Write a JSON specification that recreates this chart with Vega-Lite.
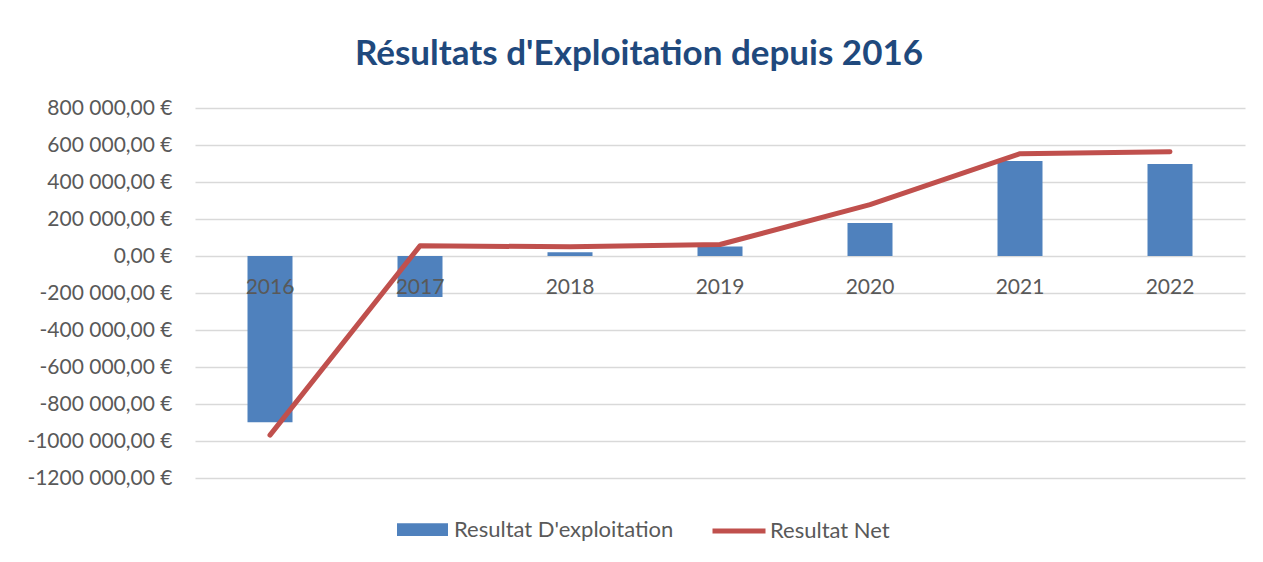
{
  "$schema": "https://vega.github.io/schema/vega-lite/v6.json",
  "autosize": {"type": "none"},
  "width": 1050,
  "height": 370,
  "padding": {"left": 195, "top": 108, "right": 18, "bottom": 84},
  "background": "white",
  "config": {
    "view": {"stroke": null},
    "font": "Lato",
    "axis": {"labelFont": "Lato", "labelColor": "#595959", "labelFontSize": 21, "ticks": false, "domain": false, "title": null, "labelOverlap": false}
  },
  "title": {
    "text": "Résultats d'Exploitation depuis 2016",
    "font": "Lato",
    "fontSize": 35,
    "fontWeight": "bold",
    "color": "#1F497D",
    "anchor": "middle",
    "frame": "group",
    "dx": -81,
    "offset": 25
  },
  "data": {
    "values": [
      {"annee": "2016", "exploitation": -898000, "net": -968000},
      {"annee": "2017", "exploitation": -222000, "net": 55000},
      {"annee": "2018", "exploitation": 20000, "net": 50000},
      {"annee": "2019", "exploitation": 52000, "net": 62000},
      {"annee": "2020", "exploitation": 178000, "net": 278000},
      {"annee": "2021", "exploitation": 513000, "net": 553000},
      {"annee": "2022", "exploitation": 497000, "net": 563000}
    ]
  },
  "encoding": {
    "x": {
      "field": "annee",
      "type": "nominal",
      "sort": null,
      "scale": {"paddingInner": 0.7, "paddingOuter": 0.35},
      "axis": {"orient": "bottom", "offset": -222, "labelAngle": 0, "labelPadding": 20, "grid": false, "zindex": 1}
    }
  },
  "layer": [
    {
      "mark": {"type": "bar", "color": "#4F81BD"},
      "encoding": {
        "y": {
          "field": "exploitation",
          "type": "quantitative",
          "scale": {"domain": [-1200000, 800000], "nice": false, "zero": false},
          "axis": {
            "values": [-1200000, -1000000, -800000, -600000, -400000, -200000, 0, 200000, 400000, 600000, 800000],
            "grid": true,
            "gridColor": "#D9D9D9",
            "gridWidth": 1.5,
            "labelPadding": 23,
            "labelOverlap": false,
            "labelExpr": "datum.value == 0 ? '0,00 €' : (datum.value < 0 ? '-' : '') + (abs(datum.value) / 1000) + ' 000,00 €'"
          }
        },
        "fill": {
          "datum": "Resultat D'exploitation",
          "scale": {"range": ["#4F81BD"]},
          "legend": {
            "orient": "none",
            "legendX": 202,
            "legendY": 396,
            "title": null,
            "symbolType": "M-1,-0.25H1V0.25H-1Z",
            "symbolSize": 2601,
            "symbolStrokeWidth": 0,
            "labelFont": "Lato",
            "labelFontSize": 22,
            "labelColor": "#595959",
            "labelOffset": 6,
            "labelLimit": 0
          }
        }
      }
    },
    {
      "mark": {"type": "line", "color": "#C0504D", "strokeWidth": 5, "strokeCap": "round", "strokeJoin": "round"},
      "encoding": {
        "y": {
          "field": "net",
          "type": "quantitative",
          "scale": {"domain": [-1200000, 800000], "nice": false, "zero": false},
          "axis": {
            "values": [-1200000, -1000000, -800000, -600000, -400000, -200000, 0, 200000, 400000, 600000, 800000],
            "grid": true,
            "gridColor": "#D9D9D9",
            "gridWidth": 1.5,
            "labelPadding": 23,
            "labelOverlap": false,
            "labelExpr": "datum.value == 0 ? '0,00 €' : (datum.value < 0 ? '-' : '') + (abs(datum.value) / 1000) + ' 000,00 €'"
          }
        },
        "stroke": {
          "datum": "Resultat Net",
          "scale": {"range": ["#C0504D"]},
          "legend": {
            "orient": "none",
            "legendX": 515,
            "legendY": 394,
            "title": null,
            "symbolType": "stroke",
            "symbolSize": 2809,
            "symbolStrokeWidth": 5,
            "labelFont": "Lato",
            "labelFontSize": 22,
            "labelColor": "#595959",
            "labelOffset": 2,
            "labelLimit": 0
          }
        }
      }
    }
  ]
}
